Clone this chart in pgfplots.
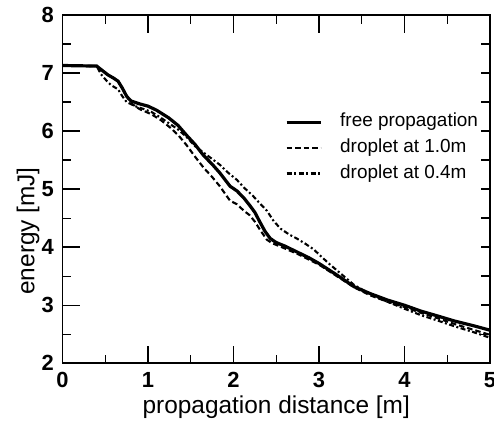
\documentclass[border=0pt]{standalone}
\usepackage{fontspec}
\setmainfont{Liberation Sans}
\usepackage{pgfplots}
\pgfplotsset{compat=1.18}
\begin{document}
\begin{tikzpicture}
\begin{axis}[
  scale only axis,
  width=427.5bp, height=348.3bp,
  xmin=0, xmax=5, ymin=2, ymax=8,
  xtick={0,1,2,3,4,5}, ytick={2,3,4,5,6,7,8},
  minor x tick num=1, minor y tick num=1,
  ytick pos=left,
  major tick length=17.5bp, minor tick length=8.5bp,
  tick align=inside,
  axis line style={line width=1.8bp},
  tick style={line width=1.5bp, black},
  minor tick style={line width=1.3bp},
  /pgf/number format/assume math mode=true,
  ticklabel style={font=\bfseries\fontsize{22}{22}\selectfont, inner sep=0pt},
  xticklabel style={anchor=north, yshift=-8.7bp},
  yticklabel style={anchor=east, xshift=-8.5bp},
  xlabel={propagation distance [m]},
  ylabel={energy [mJ]},
  label style={font=\fontsize{24.5}{24.5}\selectfont},
  xlabel style={at={(axis description cs:0.5,0)}, anchor=base, yshift=-49.7bp, inner sep=0pt},
  ylabel style={at={(axis description cs:-0.0655,0.38)}, anchor=base, inner sep=0pt},
  legend cell align=left,
  legend image code/.code={\draw[#1] (0bp,0bp) -- (34bp,0bp);},
  legend style={at={(axis cs:2.6,6.317)}, anchor=north west, draw=none, fill=none,
    inner sep=0pt, column sep=18bp, row sep=7.2bp,
    font=\fontsize{19}{19}\selectfont,
    nodes={inner sep=0pt, text height=14bp, text depth=4.5bp}},
]
\addplot[black, line width=3.2bp] coordinates {
(0,7.13) (0.40,7.12) (0.46,7.05) (0.53,6.97) (0.60,6.91) (0.65,6.86) (0.70,6.74)
(0.75,6.60) (0.80,6.52) (0.90,6.47) (1.00,6.43) (1.10,6.36) (1.24,6.23) (1.35,6.10)
(1.45,5.93) (1.55,5.77) (1.65,5.58) (1.75,5.43) (1.84,5.28) (1.96,5.05) (2.04,4.97)
(2.12,4.85) (2.19,4.72) (2.25,4.60) (2.31,4.43) (2.37,4.27) (2.43,4.15) (2.50,4.08)
(2.60,4.02) (2.74,3.92) (2.88,3.82) (3.00,3.72) (3.21,3.52) (3.41,3.32) (3.60,3.20)
(3.80,3.09) (4.00,3.00) (4.19,2.90) (4.40,2.81) (4.58,2.73) (4.80,2.65) (5.00,2.57)
};
\addlegendentry{free propagation}
\addplot[black, line width=2.1bp, dash pattern=on 5.5bp off 3bp] coordinates {
(0,7.13) (0.40,7.12) (0.46,7.05) (0.53,6.97) (0.60,6.91) (0.65,6.86) (0.70,6.74)
(0.75,6.60) (0.81,6.47) (0.90,6.38) (1.04,6.29) (1.15,6.19) (1.26,6.06) (1.36,5.92)
(1.45,5.76) (1.55,5.56) (1.65,5.37) (1.75,5.21) (1.84,5.05) (1.96,4.80) (2.04,4.74)
(2.12,4.63) (2.19,4.55) (2.25,4.44) (2.31,4.30) (2.39,4.13) (2.45,4.07) (2.55,4.01)
(2.74,3.89) (3.00,3.70) (3.21,3.50) (3.41,3.31) (3.60,3.17) (3.80,3.06) (4.00,2.97)
(4.19,2.87) (4.40,2.77) (4.60,2.67) (4.80,2.58) (5.00,2.49)
};
\addlegendentry{droplet at 1.0m}
\addplot[black, line width=2.1bp, dash pattern=on 5bp off 2.5bp on 2bp off 2.5bp] coordinates {
(0,7.13) (0.40,7.12) (0.45,6.98) (0.52,6.86) (0.57,6.79) (0.65,6.72) (0.70,6.60)
(0.75,6.50) (0.85,6.43) (0.95,6.38) (1.04,6.33) (1.14,6.24) (1.24,6.14) (1.35,6.03)
(1.45,5.90) (1.55,5.74) (1.65,5.63) (1.75,5.52) (1.84,5.42) (1.94,5.28) (2.04,5.16)
(2.12,5.03) (2.23,4.88) (2.31,4.75) (2.39,4.63) (2.47,4.45) (2.55,4.32) (2.65,4.22)
(2.74,4.15) (2.84,4.06) (2.94,3.96) (3.04,3.82) (3.13,3.70) (3.25,3.55) (3.41,3.35)
(3.60,3.19) (3.80,3.06) (4.00,2.94) (4.19,2.83) (4.40,2.73) (4.60,2.63) (4.80,2.54)
(5.00,2.44)
};
\addlegendentry{droplet at 0.4m}
\end{axis}
\begin{axis}[
  scale only axis,
  width=427.5bp, height=348.3bp,
  xmin=0, xmax=5, ymin=2, ymax=8,
  axis line style={draw=none},
  xtick=\empty,
  ytick={2,2.5,...,8}, yticklabels={},
  ytick pos=right,
  major tick length=9bp,
  tick align=inside,
  tick style={line width=1.5bp, black},
]
\end{axis}
\pgfresetboundingbox
\useasboundingbox (-62.5bp,-60.7bp) rectangle (431.5bp,363.3bp);
\end{tikzpicture}
\end{document}
